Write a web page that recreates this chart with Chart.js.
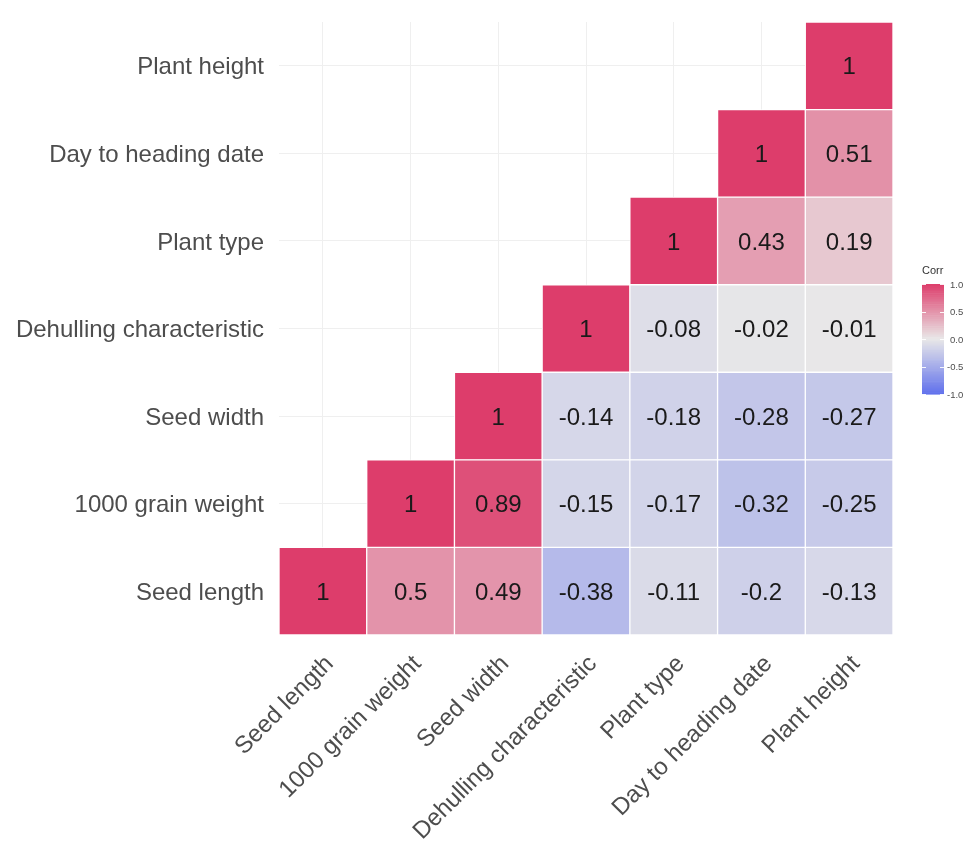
<!DOCTYPE html>
<html>
<head>
<meta charset="utf-8">
<style>
  html, body { margin: 0; padding: 0; background: #ffffff; }
  #wrap { width: 973px; height: 841px; position: relative; }
</style>
<script src="https://cdn.jsdelivr.net/npm/chart.js@4.4.1/dist/chart.umd.min.js"></script>
</head>
<body>
<div id="wrap"><canvas id="corr" width="973" height="841"></canvas></div>
<script>
// Trait names, in order along both axes (x: left to right, y: bottom to top)
const traits = [
  'Seed length',
  '1000 grain weight',
  'Seed width',
  'Dehulling characteristic',
  'Plant type',
  'Day to heading date',
  'Plant height'
];

// Correlation coefficients, one array per row (y trait); null = hidden lower half
const rowSeedLength      = [1, 0.5, 0.49, -0.38, -0.11, -0.2, -0.13];
const rowGrainWeight     = [null, 1, 0.89, -0.15, -0.17, -0.32, -0.25];
const rowSeedWidth       = [null, null, 1, -0.14, -0.18, -0.28, -0.27];
const rowDehulling       = [null, null, null, 1, -0.08, -0.02, -0.01];
const rowPlantType       = [null, null, null, null, 1, 0.43, 0.19];
const rowHeadingDate     = [null, null, null, null, null, 1, 0.51];
const rowPlantHeight     = [null, null, null, null, null, null, 1];

const rows = [rowSeedLength, rowGrainWeight, rowSeedWidth, rowDehulling,
              rowPlantType, rowHeadingDate, rowPlantHeight];

// Colour-bar tick labels
const legendTicks = [1.0, 0.5, 0.0, -0.5, -1.0];

// Diverging palette: low / mid / high
const lowCol  = [96, 112, 236];
const midCol  = [233, 232, 232];
const highCol = [221, 61, 107];

function corrColor(v) {
  const t = Math.max(-1, Math.min(1, v));
  const end = t >= 0 ? highCol : lowCol;
  const a = Math.abs(t);
  const c = midCol.map((m, k) => Math.round(m + (end[k] - m) * a));
  return `rgb(${c[0]},${c[1]},${c[2]})`;
}

// Each row becomes one dataset of floating bars spanning [row, row + 1]
const datasets = rows.map((vals, r) => ({
  label: traits[r],
  data: vals.map(v => (v === null ? null : [r, r + 1])),
  backgroundColor: vals.map(v => (v === null ? 'rgba(0,0,0,0)' : corrColor(v))),
  borderColor: '#ffffff',
  borderWidth: 1,
  borderSkipped: false,
  grouped: false,
  barPercentage: 1,
  categoryPercentage: 1
}));

// Writes each coefficient in the middle of its cell
const cellLabels = {
  id: 'cellLabels',
  afterDatasetsDraw(chart) {
    const ctx = chart.ctx;
    ctx.save();
    ctx.font = '24px "Liberation Sans", Arial, sans-serif';
    ctx.fillStyle = '#1a1a1a';
    ctx.textAlign = 'center';
    ctx.textBaseline = 'middle';
    rows.forEach((vals, r) => {
      const meta = chart.getDatasetMeta(r);
      vals.forEach((v, c) => {
        if (v === null) return;
        const el = meta.data[c];
        const cy = (el.y + el.base) / 2;
        ctx.fillText(String(v), el.x, cy + 2);
      });
    });
    ctx.restore();
  }
};

// Continuous colour bar with title and ticks, right of the plot
const colorBar = {
  id: 'colorBar',
  afterDraw(chart) {
    const ctx = chart.ctx;
    const x0 = 922, w = 22, top = 284, bottom = 394;
    const yOf = v => top + (1 - v) / 2 * (bottom - top);
    ctx.save();
    const steps = 60;
    for (let i = 0; i < steps; i++) {
      const v1 = 1 - (2 * i) / steps;
      const v2 = 1 - (2 * (i + 1)) / steps;
      ctx.fillStyle = corrColor((v1 + v2) / 2);
      ctx.fillRect(x0, yOf(v1), w, yOf(v2) - yOf(v1) + 0.6);
    }
    ctx.strokeStyle = 'rgba(255,255,255,0.9)';
    ctx.lineWidth = 1;
    legendTicks.forEach(v => {
      const y = Math.round(yOf(v)) + 0.5;
      ctx.beginPath(); ctx.moveTo(x0, y); ctx.lineTo(x0 + 4, y); ctx.stroke();
      ctx.beginPath(); ctx.moveTo(x0 + w - 4, y); ctx.lineTo(x0 + w, y); ctx.stroke();
    });
    ctx.fillStyle = '#333333';
    ctx.font = '11px "Liberation Sans", Arial, sans-serif';
    ctx.textAlign = 'left';
    ctx.textBaseline = 'middle';
    ctx.fillText('Corr', x0, 271);
    ctx.font = '9.5px "Liberation Sans", Arial, sans-serif';
    ctx.fillStyle = '#4d4d4d';
    legendTicks.forEach(v => {
      ctx.fillText(v.toFixed(1), v < 0 ? x0 + w + 3 : x0 + w + 6, yOf(v) + 1);
    });
    ctx.restore();
  }
};

const axisFont = { family: '"Liberation Sans", Arial, sans-serif', size: 24 };

new Chart(document.getElementById('corr'), {
  type: 'bar',
  data: { labels: traits, datasets },
  options: {
    responsive: false,
    animation: false,
    events: [],
    layout: { padding: { left: 10, right: 80, top: 22, bottom: 0 } },
    plugins: { legend: { display: false }, tooltip: { enabled: false } },
    scales: {
      x: {
        type: 'category',
        offset: true,
        grid: { color: '#efefef', lineWidth: 1, offset: false, drawTicks: false },
        border: { display: false },
        ticks: {
          font: axisFont,
          color: '#4d4d4d',
          maxRotation: 45,
          minRotation: 45,
          autoSkip: false,
          padding: 15,
          labelOffset: 7
        },
        afterFit(scale) {
          scale.height = 206;
          scale.paddingLeft = 0;
          scale.paddingRight = 0;
        }
      },
      y: {
        type: 'linear',
        min: 0,
        max: 7,
        grid: { color: '#efefef', lineWidth: 1, drawTicks: false },
        border: { display: false },
        afterBuildTicks(scale) {
          scale.ticks = traits.map((_, i) => ({ value: i + 0.5 }));
        },
        ticks: {
          font: axisFont,
          color: '#4d4d4d',
          padding: 15,
          labelOffset: 2,
          callback: v => traits[Math.floor(v)]
        },
        afterFit(scale) {
          scale.width = 269;
          scale.paddingTop = 0;
          scale.paddingBottom = 0;
        }
      }
    }
  },
  plugins: [cellLabels, colorBar]
});
</script>
</body>
</html>
